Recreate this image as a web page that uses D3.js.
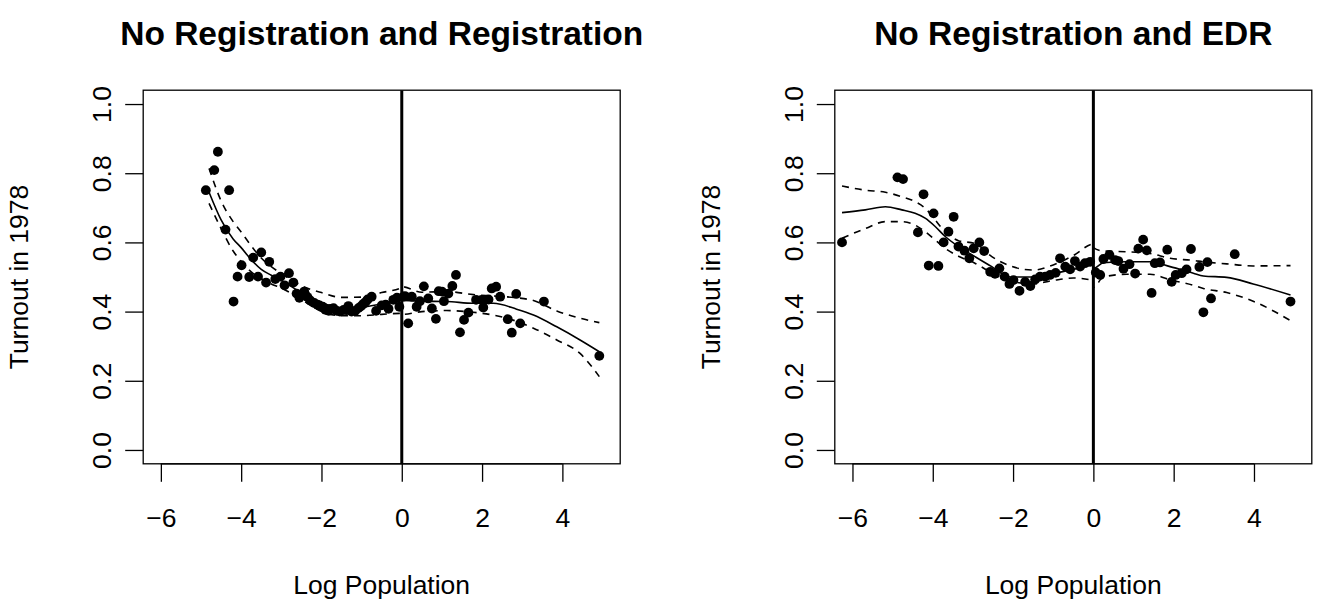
<!DOCTYPE html>
<html>
<head>
<meta charset="utf-8">
<script src="https://cdn.jsdelivr.net/npm/d3@7"></script>
<style>
  html, body { margin: 0; padding: 0; background: #fff; }
  svg { display: block; }
  text { font-family: "Liberation Sans", Arial, sans-serif; fill: #000; }
</style>
</head>
<body>
<svg id="chart" width="1320" height="603"></svg>
<script>
// ---------------- DATA ----------------
const xTicks = [-6, -4, -2, 0, 2, 4];
const yTicks = [0.0, 0.2, 0.4, 0.6, 0.8, 1.0];
const panelTitles = ["No Registration and Registration", "No Registration and EDR"];
const xLabel = "Log Population";
const yLabel = "Turnout in 1978";

// Panel 1: No Registration vs Registration
const regX = [-4.88, -4.67, -4.58, -4.30, -4.39, -4.19, -4.09, -3.99, -3.80, -3.70, -3.58, -3.50, -3.38, -3.30, -3.15,
  -3.02, -2.92, -2.81, -2.70, -2.62, -2.55, -2.43, -2.41, -2.35, -2.28, -2.18, -2.10, -2.05, -1.97, -1.90, -1.82,
  -1.78, -1.70, -1.62, -1.54, -1.45, -1.38, -1.33, -1.25, -1.16, -1.08, -1.02, -0.96, -0.90, -0.85, -0.75, -0.64,
  -0.50, -0.40, -0.33, -0.21, -0.12, -0.06, 0.04, 0.08, 0.16, 0.25, 0.37, 0.45, 0.55, 0.66, 0.75, 0.85, 0.92,
  1.00, 1.05, 1.16, 1.26, 1.35, 1.45, 1.55, 1.66, 1.85, 1.99, 2.03, 2.16, 2.24, 2.35, 2.45, 2.64, 2.74, 2.85,
  2.95, 3.54, 4.92];
const regY = [0.751, 0.809, 0.862, 0.751, 0.637, 0.429, 0.501, 0.534, 0.500, 0.556, 0.501, 0.571, 0.484, 0.544, 0.494,
  0.501, 0.476, 0.511, 0.484, 0.452, 0.440, 0.458, 0.450, 0.442, 0.432, 0.425, 0.420, 0.418, 0.414, 0.405, 0.402,
  0.408, 0.410, 0.402, 0.400, 0.405, 0.404, 0.416, 0.400, 0.402, 0.410, 0.415, 0.422, 0.428, 0.435, 0.443, 0.402,
  0.418, 0.420, 0.408, 0.434, 0.440, 0.414, 0.443, 0.445, 0.366, 0.443, 0.414, 0.430, 0.473, 0.438, 0.409, 0.379, 0.459,
  0.458, 0.430, 0.452, 0.474, 0.506, 0.340, 0.376, 0.397, 0.434, 0.434, 0.412, 0.435, 0.467, 0.472, 0.443, 0.378, 0.339, 0.451,
  0.366, 0.429, 0.272];

// fitted curve and confidence band (panel 1)
const regFitX = [-4.80, -4.50, -4.20, -4.00, -3.75, -3.50, -3.25, -3.00, -2.50, -2.00, -1.50, -1.00, -0.50, -0.001,
  0.001, 0.50, 1.12, 1.78, 2.28, 2.86, 3.28, 3.86, 4.44, 4.92];
const regFit = [0.745, 0.665, 0.610, 0.585, 0.550, 0.522, 0.505, 0.490, 0.455, 0.426, 0.411, 0.413, 0.422, 0.432,
  0.432, 0.430, 0.429, 0.424, 0.424, 0.407, 0.390, 0.356, 0.318, 0.284];
const regHi = [0.814, 0.720, 0.660, 0.630, 0.590, 0.555, 0.530, 0.510, 0.475, 0.455, 0.441, 0.442, 0.455, 0.470,
  0.472, 0.456, 0.458, 0.449, 0.445, 0.440, 0.432, 0.402, 0.381, 0.368];
const regLo = [0.713, 0.640, 0.575, 0.545, 0.515, 0.495, 0.480, 0.468, 0.435, 0.400, 0.388, 0.388, 0.392, 0.395,
  0.392, 0.400, 0.403, 0.398, 0.390, 0.372, 0.352, 0.318, 0.279, 0.212];

// Panel 2: No Registration vs EDR
const edrX = [-6.26, -4.88, -4.74, -4.23, -4.37, -3.98, -3.48, -3.61, -3.73, -4.10, -3.86, -3.36, -3.21, -3.09, -2.98,
  -2.84, -2.72, -2.57, -2.45, -2.34, -2.21, -2.09, -1.99, -1.84, -1.70, -1.57, -1.45, -1.33, -1.20, -1.08, -0.94,
  -0.83, -0.70, -0.58, -0.46, -0.33, -0.21, -0.08, 0.06, 0.17, 0.25, 0.40, 0.54, 0.62, 0.75, 0.90, 1.04, 1.12,
  1.24, 1.33, 1.45, 1.53, 1.66, 1.84, 1.95, 2.05, 2.20, 2.32, 2.43, 2.64, 2.74, 2.84, 2.93, 3.52, 4.91];
const edrY = [0.600, 0.788, 0.783, 0.739, 0.629, 0.684, 0.674, 0.631, 0.600, 0.533, 0.532, 0.588, 0.576, 0.554, 0.583,
  0.600, 0.575, 0.515, 0.509, 0.525, 0.501, 0.480, 0.491, 0.460, 0.486, 0.474, 0.493, 0.501, 0.501, 0.506, 0.512,
  0.554, 0.530, 0.522, 0.546, 0.530, 0.540, 0.544, 0.513, 0.506, 0.552, 0.564, 0.549, 0.546, 0.524, 0.537, 0.510, 0.582,
  0.608, 0.577, 0.454, 0.540, 0.542, 0.579, 0.486, 0.506, 0.511, 0.522, 0.581, 0.529, 0.398, 0.543, 0.438, 0.566, 0.429];

const edrFitX = [-6.26, -5.68, -5.18, -4.77, -4.44, -4.19, -3.94, -3.69, -3.36, -2.95, -2.53, -2.07, -1.50, -1.00,
  -0.50, -0.001, 0.001, 0.25, 0.83, 1.41, 1.91, 2.49, 2.74, 3.32, 3.98, 4.91];
const edrFit = [0.686, 0.694, 0.703, 0.694, 0.684, 0.670, 0.646, 0.617, 0.588, 0.559, 0.530, 0.500, 0.500, 0.510,
  0.522, 0.535, 0.525, 0.541, 0.544, 0.544, 0.530, 0.511, 0.503, 0.499, 0.480, 0.448];
const edrHi = [0.763, 0.751, 0.745, 0.732, 0.718, 0.699, 0.665, 0.630, 0.605, 0.597, 0.559, 0.532, 0.520, 0.535,
  0.562, 0.595, 0.585, 0.575, 0.573, 0.568, 0.554, 0.548, 0.544, 0.538, 0.532, 0.533];
const edrLo = [0.612, 0.640, 0.660, 0.660, 0.650, 0.631, 0.607, 0.583, 0.560, 0.540, 0.512, 0.488, 0.480, 0.490,
  0.497, 0.490, 0.470, 0.500, 0.508, 0.508, 0.492, 0.476, 0.467, 0.455, 0.430, 0.374];

// ---------------- DRAWING ----------------
const svg = d3.select("#chart");
const plotTop = 90.2, plotBottom = 463.8, plotW = 477;
const panels = [
  { left: 143.2, title: panelTitles[0], px: regX, py: regY, fx: regFitX, fit: regFit, hi: regHi, lo: regLo },
  { left: 834.8, title: panelTitles[1], px: edrX, py: edrY, fx: edrFitX, fit: edrFit, hi: edrHi, lo: edrLo }
];

const axisFont = 26.5;

panels.forEach(p => {
  const x = d3.scaleLinear().domain([-6.44, 5.44]).range([p.left, p.left + plotW]);
  const y = d3.scaleLinear().domain([-0.04, 1.04]).range([plotBottom, plotTop]);
  const g = svg.append("g");

  // clip
  const clipId = "clip" + Math.round(p.left);
  svg.append("clipPath").attr("id", clipId).append("rect")
    .attr("x", p.left).attr("y", plotTop).attr("width", plotW).attr("height", plotBottom - plotTop);

  // x axis
  const xAxis = d3.axisBottom(x).tickValues(xTicks).tickSize(18).tickPadding(6)
    .tickFormat(d => (d < 0 ? "\u2212" + Math.abs(d) : String(d)));
  const gx = g.append("g").attr("transform", `translate(0,${plotBottom})`).call(xAxis);
  gx.select(".domain").remove();
  gx.append("line").attr("x1", x(xTicks[0])).attr("x2", x(xTicks[xTicks.length - 1]))
    .attr("y1", 0).attr("y2", 0).attr("stroke", "#000").attr("stroke-width", 1.3);
  gx.selectAll(".tick line").attr("stroke", "#000").attr("stroke-width", 1.3);
  gx.selectAll(".tick text").attr("font-size", axisFont).attr("font-family", "Liberation Sans, Arial, sans-serif")
    .attr("fill", "#000").attr("dy", null).attr("y", 63);

  // y axis
  const yAxis = d3.axisLeft(y).tickValues(yTicks).tickSize(18).tickFormat(d3.format(".1f"));
  const gy = g.append("g").attr("transform", `translate(${p.left},0)`).call(yAxis);
  gy.select(".domain").remove();
  gy.selectAll(".tick line").attr("stroke", "#000").attr("stroke-width", 1.3);
  gy.selectAll(".tick text").attr("font-size", axisFont).attr("font-family", "Liberation Sans, Arial, sans-serif")
    .attr("fill", "#000").attr("x", null).attr("dy", null)
    .attr("text-anchor", "middle")
    .attr("transform", "translate(-32,0) rotate(-90)");

  // box
  g.append("rect").attr("x", p.left).attr("y", plotTop).attr("width", plotW).attr("height", plotBottom - plotTop)
    .attr("fill", "none").attr("stroke", "#000").attr("stroke-width", 1.3);

  const pg = g.append("g").attr("clip-path", `url(#${clipId})`);

  // vertical cutoff line
  pg.append("line").attr("x1", x(0)).attr("x2", x(0)).attr("y1", plotTop).attr("y2", plotBottom)
    .attr("stroke", "#000").attr("stroke-width", 3);

  // points
  pg.selectAll("circle").data(p.px.map((v, i) => [v, p.py[i]])).enter().append("circle")
    .attr("cx", d => x(d[0])).attr("cy", d => y(d[1])).attr("r", 4.9).attr("fill", "#000");

  const line = d3.line().x(d => x(d[0])).y(d => y(d[1])).curve(d3.curveMonotoneX);
  const mk = arr => p.fx.map((v, i) => [v, arr[i]]);
  pg.append("path").attr("d", line(mk(p.fit))).attr("fill", "none").attr("stroke", "#000").attr("stroke-width", 1.6);
  pg.append("path").attr("d", line(mk(p.hi))).attr("fill", "none").attr("stroke", "#000").attr("stroke-width", 1.6)
    .attr("stroke-dasharray", "7,6");
  pg.append("path").attr("d", line(mk(p.lo))).attr("fill", "none").attr("stroke", "#000").attr("stroke-width", 1.6)
    .attr("stroke-dasharray", "7,6");

  // title
  svg.append("text").attr("x", p.left + plotW / 2).attr("y", 45).attr("text-anchor", "middle")
    .attr("font-size", 33.5).attr("font-weight", "bold").text(p.title);

  // axis labels
  svg.append("text").attr("x", p.left + plotW / 2).attr("y", 594).attr("text-anchor", "middle")
    .attr("font-size", axisFont).text(xLabel);
  svg.append("text").attr("transform", `translate(${p.left - 115},${(plotTop + plotBottom) / 2}) rotate(-90)`)
    .attr("text-anchor", "middle").attr("font-size", axisFont).text(yLabel);
});
</script>
</body>
</html>
